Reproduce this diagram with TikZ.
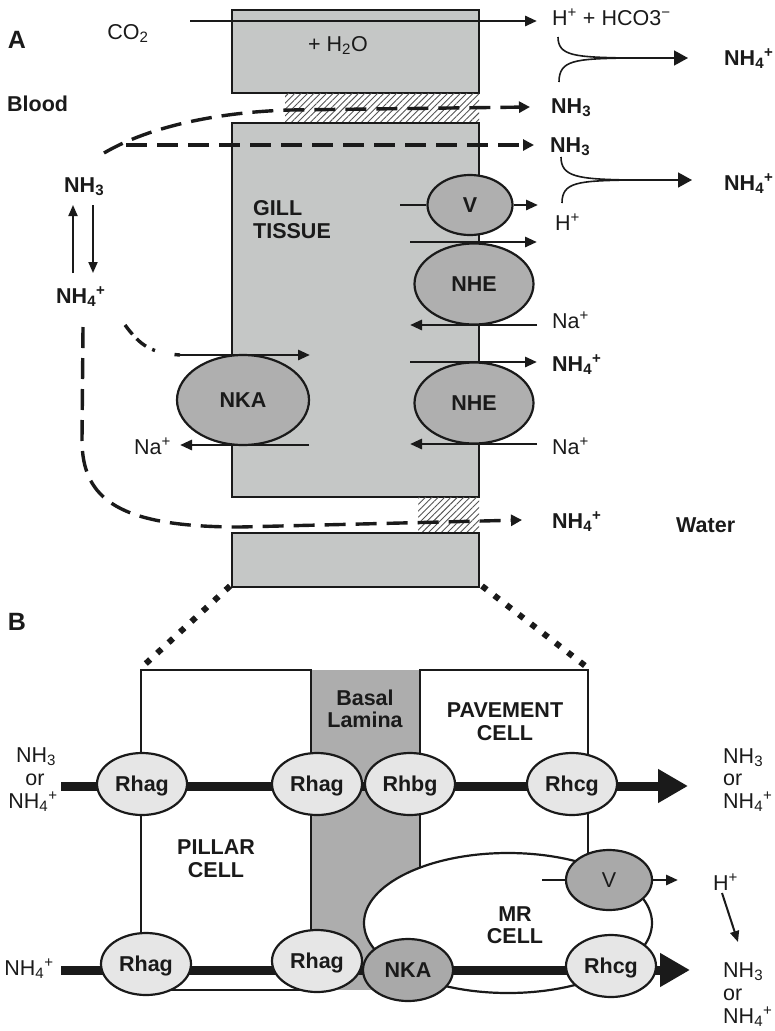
\documentclass[tikz,border=0pt]{standalone}
\usepackage{fontspec}
\setmainfont{Liberation Sans}
\usetikzlibrary{arrows.meta,patterns.meta,shapes.geometric}
\definecolor{ink}{HTML}{1A1A1A}
\definecolor{boxgray}{HTML}{C5C7C6}
\definecolor{pumpgray}{HTML}{AFAFAF}
\definecolor{lightrh}{HTML}{E6E6E6}
\definecolor{darkrh}{HTML}{A9A9A9}
\definecolor{lamina}{HTML}{ADADAD}
\definecolor{hatchc}{HTML}{555555}
\newcommand{\fsz}{\fontsize{21.5}{25}\selectfont}
\begin{document}
\begin{tikzpicture}[x=1pt,y=-1pt,
  txt/.style={font=\fsz, inner sep=0pt, text=ink},
  btxt/.style={font=\fsz\bfseries, inner sep=0pt, text=ink},
  tissue/.style={draw=ink, fill=boxgray, line width=2.2pt},
  hatched/.style={pattern={Lines[angle=45,distance=4.5pt,line width=0.9pt]}, pattern color=hatchc},
  pumpA/.style={ellipse, draw=ink, fill=pumpgray, line width=2.2pt, inner sep=0pt, font=\fsz\bfseries, text=ink, text height=15.4pt, text depth=0pt},
  rhlight/.style={ellipse, draw=ink, fill=lightrh, line width=2.2pt, inner sep=0pt, minimum width=90pt, minimum height=62pt, font=\fsz\bfseries, text=ink, text height=15.4pt, text depth=0pt},
  rhdark/.style={rhlight, fill=darkrh},
  thinarrow/.style={draw=ink, line width=2.8pt, -{Triangle[length=12pt,width=10pt]}},
  thinline/.style={draw=ink, line width=2.8pt},
  vertarrow/.style={draw=ink, line width=2pt, -{Triangle[length=11pt,width=9pt]}},
  dashedarrow/.style={draw=ink, line width=3.4pt, dash pattern=on 21pt off 10pt, -{Triangle[length=11pt,width=11pt]}},
  dashdot/.style={draw=ink, line width=3.4pt, dash pattern=on 12pt off 6pt on 12pt off 7pt on 3pt off 20pt},
  bracket/.style={draw=ink, line width=1.6pt},
  dotline/.style={draw=ink, line width=6pt, dash pattern=on 6pt off 9.5pt},
  thickbar/.style={draw=ink, line width=9pt, -{Triangle[length=30pt,width=32pt]}},
  cellline/.style={draw=ink, line width=2.2pt}
]
\useasboundingbox (0,0) rectangle (775,1031);

% ================= Part A =================
\path[tissue] (232,10) rectangle (479,93);
\path[hatched] (285,93) rectangle (479,123);
\path[tissue] (232,123) rectangle (479,497);
\path[hatched] (418,497) rectangle (479,533);
\path[tissue] (232,533) rectangle (479,587);
\coordinate (botL) at (230,586);
\coordinate (botR) at (482,586);

% pumps
\node[pumpA, minimum width=85pt, minimum height=60pt] (vA) at (470,205) {V};
\node[pumpA, minimum width=119pt, minimum height=81pt] (nhe1) at (474,284) {NHE};
\node[pumpA, minimum width=119pt, minimum height=81pt] (nhe2) at (474,403) {NHE};
\node[pumpA, minimum width=132pt, minimum height=90pt] (nka) at (243,400) {NKA};

% CO2 arrow
\coordinate (co2s) at (190,21);
\coordinate (co2e) at (537,21);
\draw[thinarrow] (co2s) -- (co2e);

% membrane arrows
\coordinate (vin) at (400,205);
\coordinate (vout) at (538,205);
\draw[thinline] (vin) -- (vA.west);
\draw[thinarrow] (vA.east) -- (vout);
\coordinate (n1s) at (410,242); \coordinate (n1e) at (537,242);
\draw[thinarrow] (n1s) -- (n1e);
\coordinate (n2s) at (537,325); \coordinate (n2e) at (410,325);
\draw[thinarrow] (n2s) -- (n2e);
\coordinate (n3s) at (410,362); \coordinate (n3e) at (537,362);
\draw[thinarrow] (n3s) -- (n3e);
\coordinate (n4s) at (537,444); \coordinate (n4e) at (410,444);
\draw[thinarrow] (n4s) -- (n4e);
\coordinate (k1s) at (180,355); \coordinate (k1e) at (310,355);
\draw[thinarrow] (k1s) -- (k1e);
\coordinate (k2s) at (309,445); \coordinate (k2e) at (180,445);
\draw[thinarrow] (k2s) -- (k2e);

% dashed paths
\coordinate (d1s) at (104,153);
\coordinate (d1m) at (290,110);
\coordinate (d1e) at (530,107);
\draw[dashedarrow] (d1s) .. controls (150,126) and (220,112) .. (d1m) -- (d1e);
\coordinate (d2s) at (126,145);
\coordinate (d2e) at (534,145);
\draw[dashedarrow] (d2s) -- (d2e);
\coordinate (d3s) at (125,325);
\draw[dashdot] (d3s) .. controls (140,345) and (150,353) .. (k1s);
\coordinate (d4s) at (83,327);
\coordinate (d4a) at (82,440);
\coordinate (d4b) at (240,527);
\coordinate (d4e) at (522,520);
\draw[dashedarrow] (d4s) -- (d4a) .. controls (82,500) and (120,527) .. (d4b) -- (d4e);

% brackets
\coordinate (b1a) at (558,37); \coordinate (b1b) at (559,82);
\coordinate (b1m) at (625,58); \coordinate (b1e) at (688,58);
\draw[bracket] (b1a) .. controls (558,56) and (575,57) .. (b1m);
\draw[bracket] (b1b) .. controls (559,60) and (575,59) .. (b1m);
\draw[bracket, -{Triangle[length=14pt,width=15pt]}] (b1m) -- (b1e);
\coordinate (b2a) at (561,157); \coordinate (b2b) at (562,203);
\coordinate (b2m) at (628,180); \coordinate (b2e) at (692,180);
\draw[bracket] (b2a) .. controls (561,177) and (578,179) .. (b2m);
\draw[bracket] (b2b) .. controls (562,182) and (578,181) .. (b2m);
\draw[bracket, -{Triangle[length=14pt,width=15pt]}] (b2m) -- (b2e);

% left equilibrium arrows
\coordinate (u1) at (73,273); \coordinate (u2) at (73,205);
\draw[vertarrow] (u1) -- (u2);
\coordinate (w1) at (93,205); \coordinate (w2) at (93,273);
\draw[vertarrow] (w1) -- (w2);

% texts A
\node[btxt, font=\fontsize{25}{29}\selectfont\bfseries, anchor=base] (labA) at (17,48) {A};
\node[txt, anchor=base] (tco2) at (128,39) {CO\textsubscript{2}};
\node[txt, anchor=base] (th2o) at (338,51) {+ H\textsubscript{2}O};
\node[txt, anchor=base west] (thco3) at (552,25) {H\textsuperscript{+} + HCO3\textsuperscript{−}};
\node[btxt, anchor=base west] (tnh4a) at (724,65) {NH\textsubscript{4}\textsuperscript{+}};
\node[btxt, anchor=base west] (tblood) at (7,111) {Blood};
\node[btxt, anchor=base west] (tnh3a) at (551,113) {NH\textsubscript{3}};
\node[btxt, anchor=base west] (tnh3b) at (550,152) {NH\textsubscript{3}};
\node[btxt, anchor=base west] (tnh4b) at (724,190) {NH\textsubscript{4}\textsuperscript{+}};
\node[txt, anchor=base west] (thv) at (555,230) {H\textsuperscript{+}};
\node[btxt, anchor=base west] (tnh3l) at (64,192) {NH\textsubscript{3}};
\node[btxt, anchor=base west] (tnh4l) at (56,303) {NH\textsubscript{4}\textsuperscript{+}};
\node[btxt, anchor=base west] (tgill) at (253,215) {GILL};
\node[btxt, anchor=base west] (ttissue) at (253,238) {TISSUE};
\node[txt, anchor=base west] (tna1) at (552,328) {Na\textsuperscript{+}};
\node[btxt, anchor=base west] (tnh4m) at (552,371) {NH\textsubscript{4}\textsuperscript{+}};
\node[txt, anchor=base west] (tna2) at (552,454) {Na\textsuperscript{+}};
\node[txt, anchor=base east] (tna3) at (171,454) {Na\textsuperscript{+}};
\node[btxt, anchor=base west] (tnh4w) at (552,528) {NH\textsubscript{4}\textsuperscript{+}};
\node[btxt, anchor=base west] (twater) at (676,532) {Water};

% ================= Part B =================
\node[btxt, font=\fontsize{25}{29}\selectfont\bfseries, anchor=base] (labB) at (17,630) {B};
\path[fill=lamina] (311,670) rectangle (420,990);
\draw[cellline] (141,670) rectangle (311,990);
\coordinate (pvA) at (420,990);
\coordinate (pvB) at (420,670);
\coordinate (pvC) at (588,670);
\coordinate (pvD) at (588,870);
\draw[cellline] (pvA) -- (pvB) -- (pvC) -- (pvD);
\coordinate (pilTL) at (141,668);
\coordinate (pavTR) at (588,668);
\draw[dotline] (botL) -- (pilTL);
\draw[dotline] (botR) -- (pavTR);

\node[ellipse, draw=ink, fill=white, line width=2.2pt, minimum width=288pt, minimum height=140pt, inner sep=0pt] (mr) at (508,923) {};

\coordinate (bar1s) at (61,786); \coordinate (bar1e) at (688,786);
\draw[thickbar] (bar1s) -- (bar1e);
\coordinate (bar2s) at (61,970); \coordinate (bar2e) at (690,970);
\draw[thickbar] (bar2s) -- (bar2e);

\node[rhlight] (rhag1) at (142,784) {Rhag};
\node[rhlight] (rhag2) at (317,784) {Rhag};
\node[rhlight] (rhbg) at (410,784) {Rhbg};
\node[rhlight] (rhcg1) at (572,784) {Rhcg};
\node[rhlight] (rhag3) at (146,964) {Rhag};
\node[rhlight] (rhag4) at (317,961) {Rhag};
\node[rhdark] (nkaB) at (408,970) {NKA};
\node[rhlight] (rhcg2) at (611,966) {Rhcg};
\node[rhdark, minimum width=86pt, minimum height=60pt, font=\fsz] (vB) at (609,880) {V};

\coordinate (vbin) at (542,880);
\coordinate (vbout) at (678,880);
\draw[thinline] (vbin) -- (vB.west);
\draw[thinarrow] (vB.east) -- (vbout);
\coordinate (hs) at (722,893);
\coordinate (he) at (738,942);
\draw[vertarrow] (hs) -- (he);

% texts B
\node[btxt, anchor=base] (tbasal) at (365,705) {Basal};
\node[btxt, anchor=base] (tlamina) at (365,727) {Lamina};
\node[btxt, anchor=base] (tpave) at (505,717) {PAVEMENT};
\node[btxt, anchor=base] (tpcell) at (505,740) {CELL};
\node[btxt, anchor=base] (tpillar) at (216,854) {PILLAR};
\node[btxt, anchor=base] (tpicell) at (216,877) {CELL};
\node[btxt, anchor=base] (tmr) at (515,921) {MR};
\node[btxt, anchor=base] (tmrcell) at (515,943) {CELL};

\node[txt, anchor=base] (l1a) at (36,762) {NH\textsubscript{3}};
\node[txt, anchor=base] (l1b) at (35,785) {or};
\node[txt, anchor=base] (l1c) at (33,808) {NH\textsubscript{4}\textsuperscript{+}};
\node[txt, anchor=base] (l2a) at (29,975) {NH\textsubscript{4}\textsuperscript{+}};
\node[txt, anchor=base west] (r1a) at (723,763) {NH\textsubscript{3}};
\node[txt, anchor=base west] (r1b) at (723,785) {or};
\node[txt, anchor=base west] (r1c) at (723,808) {NH\textsubscript{4}\textsuperscript{+}};
\node[txt, anchor=base west] (thb) at (713,890) {H\textsuperscript{+}};
\node[txt, anchor=base west] (r2a) at (723,977) {NH\textsubscript{3}};
\node[txt, anchor=base west] (r2b) at (723,1000) {or};
\node[txt, anchor=base west] (r2c) at (723,1023) {NH\textsubscript{4}\textsuperscript{+}};
\end{tikzpicture}
\end{document}
